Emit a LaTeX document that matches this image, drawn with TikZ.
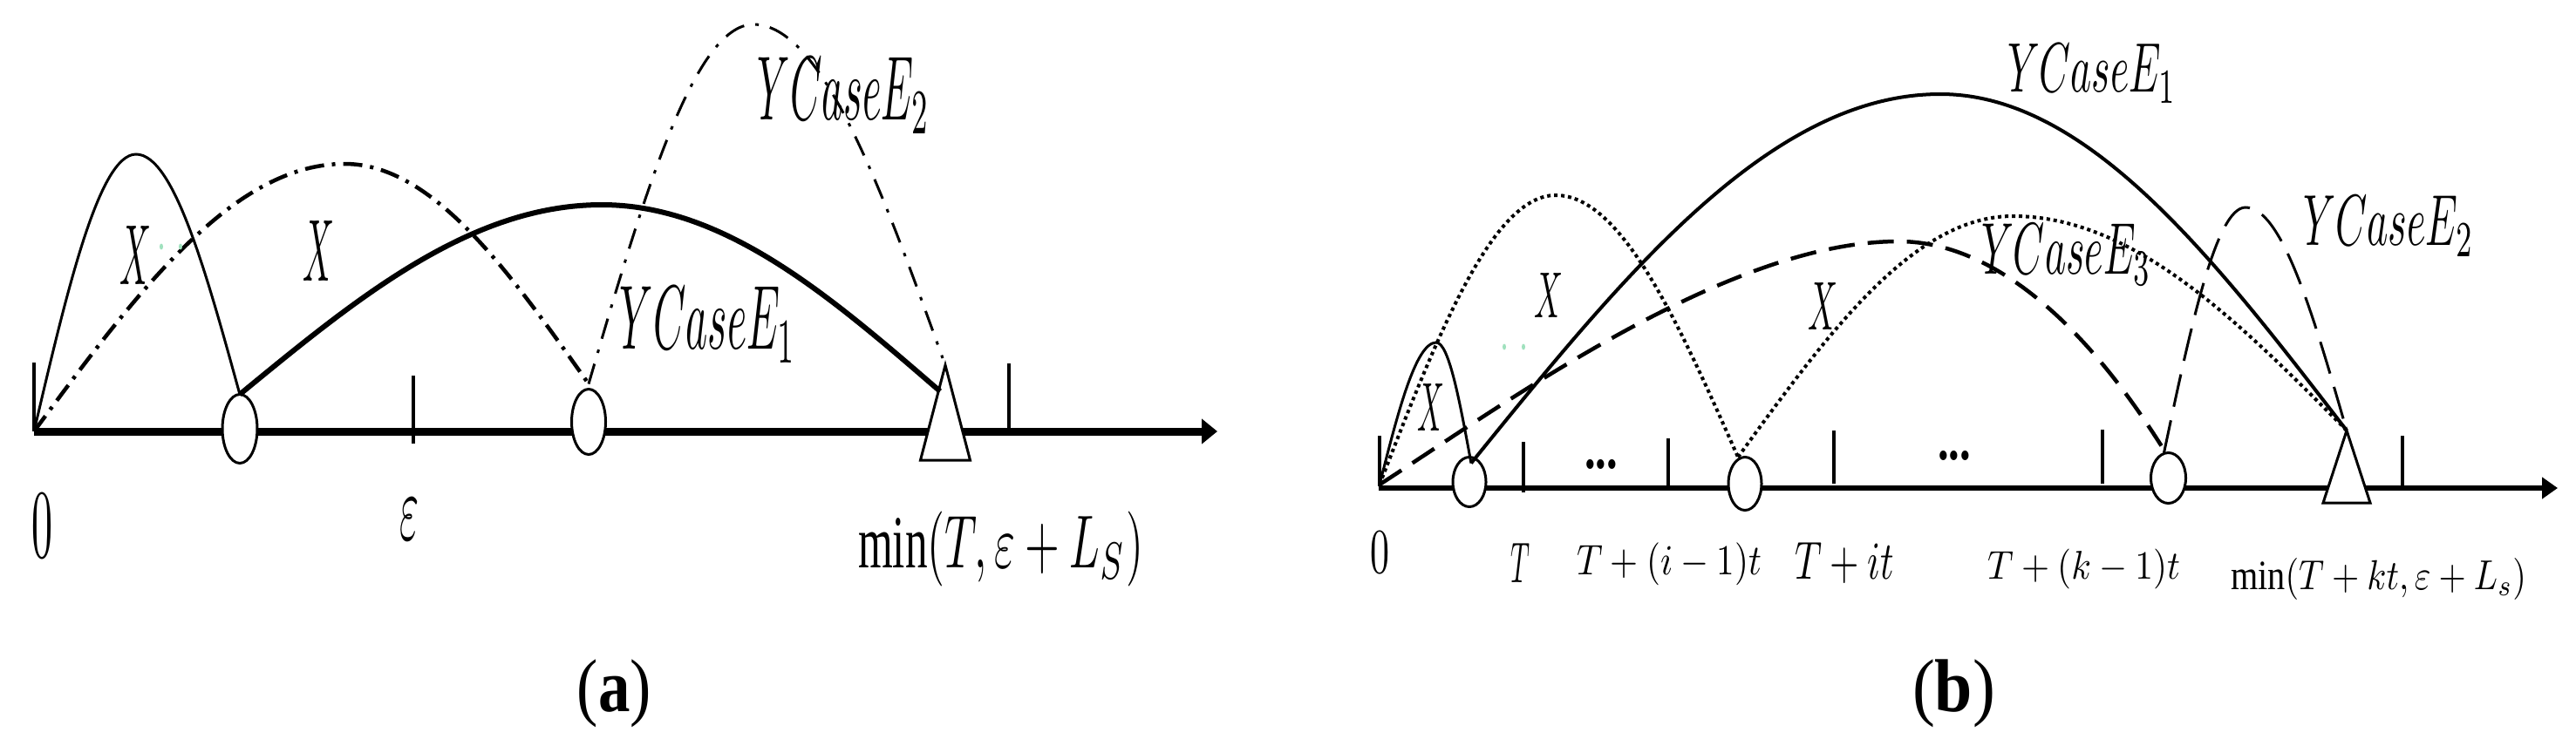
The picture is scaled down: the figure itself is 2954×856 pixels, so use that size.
\documentclass[tikz,border=0pt]{standalone}
\usepackage{fontspec}
\setmainfont{Liberation Serif}
\usetikzlibrary{arrows.meta,shapes.geometric}
\definecolor{mint}{RGB}{160,225,190}
\newcommand{\fitlab}[3]{\resizebox*{#1pt}{#2pt}{#3}}
\begin{document}
\begin{tikzpicture}[x=1pt,y=-1pt,
  every node/.style={inner sep=0pt,outer sep=0pt},
  axisA/.style={line width=9pt,-{Triangle[length=18pt,width=28pt]}},
  axisB/.style={line width=5.5pt,-{Triangle[length=18pt,width=24pt]}},
  tickline/.style={line width=4pt},
  circmark/.style={ellipse,draw,fill=white,line width=3pt},
  trimark/.style={isosceles triangle,isosceles triangle stretches,shape border rotate=90,draw,fill=white,line width=3pt},
  thinarc/.style={line width=3pt},
  thickarc/.style={line width=6pt},
  midarc/.style={line width=4pt},
  dashdotA/.style={line width=4.5pt,dash pattern=on 22pt off 9pt on 4pt off 9pt},
  dashdotB/.style={line width=3pt,dash pattern=on 24pt off 13pt on 4pt off 13pt},
  dotarc/.style={line width=4pt,dash pattern=on 4pt off 4pt},
  dasharcA/.style={line width=4.5pt,dash pattern=on 30pt off 15pt},
  dasharcB/.style={line width=3pt,dash pattern=on 38pt off 16pt},
  gdot/.style={ellipse,fill=mint,minimum width=4pt,minimum height=7pt},
  lab/.style={anchor=center}
]
\path[use as bounding box,fill=white] (0,0) rectangle (2954,856);

% ---------------- panel (a) ----------------
\coordinate (oA) at (39,495);
\coordinate (eA) at (1396,495);
\draw[axisA] (oA) -- (eA);
\draw[tickline] (39,416) -- (39,495);
\draw[tickline] (474,431) -- (474,509);
\draw[tickline] (1157,417) -- (1157,495);

\node[circmark,minimum width=40pt,minimum height=79pt] (a1) at (275,492) {};
\node[circmark,minimum width=39pt,minimum height=75pt] (a2) at (675,484) {};
\node[trimark,minimum width=57pt,minimum height=109pt,anchor=apex] (tA) at (1084,419) {};

\coordinate (pA1) at (156,177);
\coordinate (pA2) at (395,188);
\coordinate (pA3) at (690,235);
\coordinate (pA4) at (864,28);
\draw[thinarc] (oA) sin (pA1) cos (a1.north);
\draw[dashdotA] (oA) sin (pA2) cos ([yshift=6pt]a2.north);
\draw[thickarc] (a1.north) sin (pA3) cos ([xshift=-6pt,yshift=-30pt]tA.apex);
\draw[dashdotB] ([yshift=6pt]a2.north) sin (pA4) cos ([xshift=-3pt,yshift=8pt]tA.apex);

\node[gdot] (ga1) at (185,283) {};
\node[gdot] (ga2) at (207,283) {};

\node[lab] (lXa1) at (156,292.5) {\fitlab{36}{67}{$X$}};
\node[lab] (lXa2) at (366,287.5) {\fitlab{36}{69}{$X$}};
\node[lab] (lYa2) at (967.5,109.5) {\fitlab{197}{87}{$YCaseE_2$}};
\node[lab] (lYa1) at (812,372.5) {\fitlab{202}{87}{$YCaseE_1$}};
\node[lab] (lmina) at (1147.5,630) {\fitlab{327}{86}{$\min(T,\varepsilon+L_S)$}};
\node[lab] (l0a) at (48,603) {\fitlab{24}{72}{$0$}};
\node[lab] (leps) at (469,595.5) {\fitlab{22}{47}{$\varepsilon$}};
\node[lab] (capa) at (704.5,796) {\fitlab{85}{78}{(\textbf{a})}};

% ---------------- panel (b) ----------------
\coordinate (oB) at (1582,556);
\coordinate (eB) at (2933,560);
\draw[axisB] (1581,560) -- (eB);
\draw[tickline] (1582,500) -- (1582,558);
\draw[tickline] (1747,507) -- (1747,565);
\draw[tickline] (1913,503) -- (1913,558);
\draw[tickline] (2103,494) -- (2103,555);
\draw[tickline] (2411,493) -- (2411,555);
\draw[tickline] (2755,500) -- (2755,560);

\node[circmark,minimum width=38pt,minimum height=57pt] (b1) at (1685,553) {};
\node[circmark,minimum width=38pt,minimum height=61pt] (b2) at (2001,555) {};
\node[circmark,minimum width=40pt,minimum height=58pt] (b3) at (2486.5,548.5) {};
\node[trimark,minimum width=54pt,minimum height=83pt,anchor=apex] (tB) at (2691,494) {};

\coordinate (pB1) at (1647,393);
\coordinate (pB2) at (1784,224);
\coordinate (pB3) at (2308,248);
\coordinate (pB4) at (2225,108);
\coordinate (pB5) at (2177,277);
\coordinate (pB6) at (2575,238);
\draw[thinarc] (oB) sin (pB1) cos ([xshift=2pt,yshift=-7pt]b1.north);
\draw[dotarc] (oB) sin (pB2) cos ([xshift=-8pt]b2.north);
\draw[dotarc] ([xshift=-8pt]b2.north) sin (pB3) cos (tB.apex);
\draw[midarc] ([xshift=2pt,yshift=-7pt]b1.north) sin (pB4) cos (tB.apex);
\draw[dasharcA] (oB) .. controls (1732,459) and (1982,277) .. (pB5) parabola ([xshift=-8pt,yshift=8pt]b3.north);
\draw[dasharcB] ([xshift=-5pt]b3.north) sin (pB6) cos (tB.apex);

\node[gdot] (gb1) at (1725,398) {};
\node[gdot] (gb2) at (1747,398) {};

\node[lab] (lXb1) at (1640.5,467) {\fitlab{31}{54}{$X$}};
\node[lab] (lXb2) at (1775.5,338.5) {\fitlab{33}{51}{$X$}};
\node[lab] (lXb3) at (2090,351) {\fitlab{34}{54}{$X$}};
\node[lab] (l0b) at (1582,633.5) {\fitlab{22}{47}{$0$}};
\node[lab] (lT) at (1743,645.5) {\fitlab{22}{45}{$T$}};
\node[lab] (lTi1) at (1914,647.5) {\fitlab{212}{49}{$T+(i-1)t$}};
\node[lab] (lTi) at (2115,646.5) {\fitlab{114}{47}{$T+it$}};
\node[lab] (ldots1) at (1836,532.5) {\fitlab{38}{11}{\textbf{...}}};
\node[lab] (ldots2) at (2241,523) {\fitlab{38}{11}{\textbf{...}}};
\node[lab] (lTk1) at (2389.5,653) {\fitlab{221}{46}{$T+(k-1)t$}};
\node[lab] (lminb) at (2727.5,664) {\fitlab{339}{48}{$\min(T+kt,\varepsilon+L_s)$}};
\node[lab] (lYb1) at (2399,84.5) {\fitlab{194}{67}{$YCaseE_1$}};
\node[lab] (lYb2) at (2739,259.5) {\fitlab{196}{69}{$YCaseE_2$}};
\node[lab] (lYb3) at (2369.5,292) {\fitlab{195}{70}{$YCaseE_3$}};
\node[lab] (capb) at (2240.5,796) {\fitlab{95}{78}{(\textbf{b})}};
\end{tikzpicture}
\end{document}
